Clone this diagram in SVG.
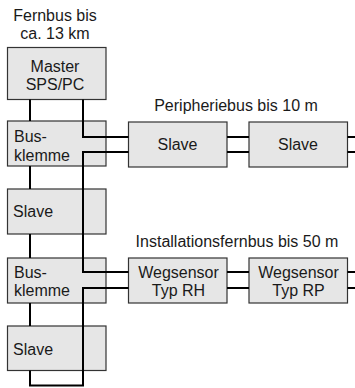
<svg xmlns="http://www.w3.org/2000/svg" width="355" height="388" viewBox="0 0 355 388">
<style>
.box{fill:#e6e6e6;stroke:#333;stroke-width:1.2}
.t{font-family:"Liberation Sans",Arial,sans-serif;font-size:16px;fill:#1a1a1a}
.m{text-anchor:middle}
.c{fill:none;stroke:#000;stroke-width:2}
</style>
<rect width="355" height="388" fill="#fff"/>
<g id="label-fernbus"><text class="t m" x="55" y="21">Fernbus bis</text><text class="t m" x="55" y="38.5">ca. 13 km</text></g>
<g id="label-peripheriebus"><text class="t m" x="236" y="111">Peripheriebus bis 10 m</text></g>
<g id="label-installationsfernbus"><text class="t m" x="237" y="247">Installationsfernbus bis 50 m</text></g>
<g id="master"><rect class="box" x="7.5" y="47.5" width="98.5" height="52"/><text class="t m" x="55" y="71.5">Master</text><text class="t m" x="55" y="90">SPS/PC</text></g>
<g id="busklemme1"><rect class="box" x="7.5" y="121" width="98.5" height="45"/><text class="t" x="14" y="141.5">Bus-</text><text class="t" x="14" y="160.5">klemme</text></g>
<g id="slave-left1"><rect class="box" x="7.5" y="189" width="98.5" height="45"/><text class="t" x="13" y="217">Slave</text></g>
<g id="busklemme2"><rect class="box" x="7.5" y="258" width="98.5" height="45"/><text class="t" x="14" y="277.5">Bus-</text><text class="t" x="14" y="296">klemme</text></g>
<g id="slave-left2"><rect class="box" x="7.5" y="326" width="98.5" height="44.5"/><text class="t" x="13" y="355">Slave</text></g>
<g id="slave-p1"><rect class="box" x="128.5" y="122" width="98.5" height="45"/><text class="t m" x="177.5" y="150">Slave</text></g>
<g id="slave-p2"><rect class="box" x="249" y="122" width="98.5" height="45"/><text class="t m" x="298" y="150">Slave</text></g>
<g id="wegsensor-rh"><rect class="box" x="128.5" y="258" width="98.5" height="45"/><text class="t m" x="178.5" y="277.5">Wegsensor</text><text class="t m" x="178.5" y="295.5">Typ RH</text></g>
<g id="wegsensor-rp"><rect class="box" x="249" y="258" width="98.5" height="45"/><text class="t m" x="298.5" y="277.5">Wegsensor</text><text class="t m" x="298.5" y="295.5">Typ RP</text></g>
<g id="connectors">
<path class="c" d="M30,99.5V121M30,166V189M30,234V258M30,303V326"/>
<path class="c" d="M83,99.5V137H128.5"/>
<path class="c" d="M128.5,152H83V272H128.5"/>
<path class="c" d="M128.5,288H83V385.5H30V370.5"/>
<path class="c" d="M227,137H249M227,152H249M347.5,137H355M347.5,152H355"/>
<path class="c" d="M227,272H249M227,288H249M347.5,272H355M347.5,288H355"/>
</g>
</svg>
